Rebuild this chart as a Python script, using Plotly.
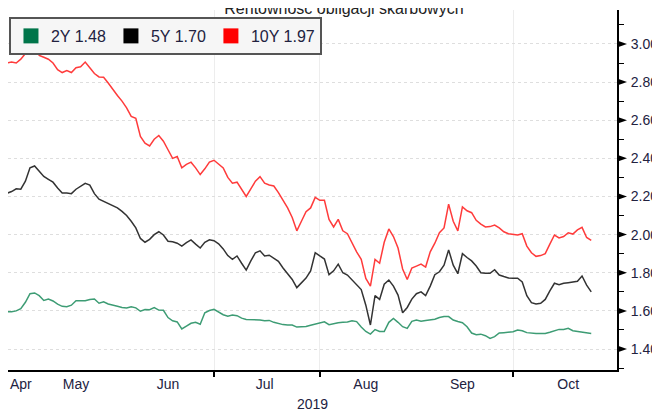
import pandas as pd
import plotly.graph_objects as go

# ---- data (Polish trading days, 24 Apr 2019 - 24 Oct 2019) ----
holidays = ["2019-04-22", "2019-05-01", "2019-05-03", "2019-06-20", "2019-08-15"]
dates = [d for d in pd.bdate_range("2019-04-24", "2019-10-24") if d.strftime("%Y-%m-%d") not in holidays]

y10 = [2.90, 2.905, 2.90, 2.92, 2.95, 2.99, 3.00, 2.94, 2.93, 2.92,
       2.90, 2.865, 2.85, 2.86, 2.85, 2.875, 2.88, 2.905, 2.875, 2.845,
       2.827, 2.825, 2.795, 2.76, 2.73, 2.70, 2.665, 2.62, 2.61, 2.515,
       2.48, 2.465, 2.50, 2.52, 2.49, 2.445, 2.40, 2.41, 2.35, 2.368,
       2.38, 2.35, 2.315, 2.345, 2.38, 2.39, 2.37, 2.35, 2.30, 2.27,
       2.275, 2.24, 2.20, 2.24, 2.28, 2.304, 2.27, 2.26, 2.255, 2.22,
       2.18, 2.14, 2.09, 2.02, 2.07, 2.12, 2.14, 2.195, 2.18, 2.18,
       2.08, 2.04, 2.08, 2.02, 2.005, 1.954, 1.91, 1.87, 1.77, 1.73,
       1.87, 1.85, 1.96, 2.03, 1.99, 1.93, 1.82, 1.765, 1.825, 1.835,
       1.845, 1.83, 1.91, 1.955, 2.01, 2.035, 2.16, 2.07, 2.02, 2.145,
       2.125, 2.115, 2.075, 2.055, 2.04, 2.042, 2.05, 2.035, 2.015, 2.005,
       2.00, 1.998, 2.005, 1.94, 1.905, 1.886, 1.89, 1.90, 1.95, 1.998,
       1.983, 1.99, 2.01, 2.003, 2.025, 2.038, 1.985, 1.97]

y5 = [2.217, 2.226, 2.24, 2.238, 2.28, 2.35, 2.36, 2.335, 2.305, 2.29,
      2.275, 2.245, 2.218, 2.218, 2.215, 2.238, 2.253, 2.269, 2.26, 2.215,
      2.186, 2.175, 2.16, 2.15, 2.14, 2.122, 2.10, 2.07, 2.035, 1.98,
      1.96, 1.975, 2.00, 2.015, 1.998, 1.965, 1.963, 1.955, 1.94, 1.958,
      1.972, 1.95, 1.93, 1.96, 1.973, 1.968, 1.952, 1.925, 1.89, 1.87,
      1.888, 1.85, 1.814, 1.862, 1.905, 1.915, 1.888, 1.892, 1.878, 1.86,
      1.825, 1.795, 1.765, 1.722, 1.75, 1.772, 1.81, 1.905, 1.888, 1.872,
      1.79, 1.81, 1.845, 1.80, 1.788, 1.762, 1.737, 1.712, 1.63, 1.526,
      1.68, 1.66, 1.74, 1.762, 1.73, 1.683, 1.59, 1.618, 1.662, 1.69,
      1.70, 1.68, 1.73, 1.79, 1.805, 1.84, 1.92, 1.84, 1.795, 1.90,
      1.88, 1.862, 1.835, 1.80, 1.797, 1.797, 1.816, 1.788, 1.78, 1.773,
      1.771, 1.771, 1.752, 1.68, 1.643, 1.636, 1.64, 1.66, 1.705, 1.745,
      1.737, 1.745, 1.748, 1.752, 1.755, 1.783, 1.735, 1.70]

y2 = [1.596, 1.596, 1.60, 1.612, 1.645, 1.69, 1.694, 1.68, 1.655, 1.662,
      1.652, 1.635, 1.624, 1.622, 1.63, 1.653, 1.653, 1.653, 1.66, 1.662,
      1.64, 1.648, 1.636, 1.628, 1.624, 1.618, 1.615, 1.622, 1.616, 1.598,
      1.607, 1.606, 1.617, 1.604, 1.603, 1.565, 1.548, 1.542, 1.505, 1.52,
      1.535, 1.54, 1.53, 1.59, 1.602, 1.608, 1.595, 1.58, 1.572, 1.578,
      1.575, 1.562, 1.555, 1.555, 1.554, 1.552, 1.548, 1.55, 1.54, 1.532,
      1.528, 1.526, 1.526, 1.515, 1.515, 1.518, 1.525, 1.532, 1.536, 1.543,
      1.528, 1.535, 1.538, 1.54, 1.542, 1.548, 1.544, 1.515, 1.492, 1.478,
      1.502, 1.492, 1.492, 1.54, 1.56, 1.54, 1.517, 1.508, 1.545, 1.552,
      1.546, 1.55, 1.552, 1.556, 1.565, 1.57, 1.57, 1.552, 1.544, 1.538,
      1.517, 1.484, 1.475, 1.478, 1.47, 1.456, 1.465, 1.484, 1.486, 1.487,
      1.491, 1.50, 1.496, 1.486, 1.482, 1.482, 1.482, 1.482, 1.488, 1.497,
      1.503, 1.503, 1.509, 1.496, 1.492, 1.491, 1.488, 1.482]

series_names = ["2Y", "5Y", "10Y"]
month_labels = ["Apr", "May", "Jun", "Jul", "Aug", "Sep", "Oct"]
month_label_dates = ["2019-04-29", "2019-05-17", "2019-06-14", "2019-07-16",
                     "2019-08-16", "2019-09-16", "2019-10-17"]
month_starts = ["2019-05-01", "2019-06-01", "2019-07-01", "2019-08-01",
                "2019-09-01", "2019-10-01"]
y_ticks = [1.40, 1.60, 1.80, 2.00, 2.20, 2.40, 2.60, 2.80, 3.00]
y_range = [1.29, 3.178]

# ---- styles ----
line_colors = ["#3d9c74", "#333333", "#ff3b3b"]
key_colors = ["#00754a", "#000000", "#ff0000"]
FONT = "Liberation Sans, Arial, sans-serif"
TXT = "#22223f"

fig = go.Figure()
for name, ys, lc in zip(series_names, [y2, y5, y10], line_colors):
    fig.add_trace(go.Scatter(x=dates, y=ys, mode="lines", line=dict(color=lc, width=1.5),
                             showlegend=False, hoverinfo="skip"))
for name, ys, kc in zip(series_names, [y2, y5, y10], key_colors):
    fig.add_trace(go.Scatter(x=[None], y=[None], mode="markers",
                             marker=dict(symbol="square", size=15, color=kc),
                             name=f"{name} {ys[-1]:.2f}"))

# Bloomberg-style triangular major tick marks on the right axis
for t in y_ticks:
    frac = (t - y_range[0]) / (y_range[1] - y_range[0])
    fig.add_shape(type="path", xref="paper", yref="paper", xsizemode="pixel", ysizemode="pixel",
                  xanchor=1, yanchor=frac, path="M0,-3.5L10,0L0,3.5Z",
                  fillcolor="black", line=dict(width=0, color="black"), layer="above")

fig.update_layout(
    template="none",
    width=660, height=409,
    margin=dict(l=0, r=51, t=2, b=47, autoexpand=False),
    paper_bgcolor="white", plot_bgcolor="white",
    font=dict(family=FONT, color=TXT, size=14),
    title=dict(text="Rentowność obligacji skarbowych", x=0.509, xanchor="center",
               y=1.0, yanchor="middle", yref="container",
               font=dict(size=16, color="#222222", family=FONT)),
    legend=dict(orientation="h", x=0.0016, xanchor="left", y=0.9806, yanchor="top",
                bgcolor="#f6f6f6", bordercolor="#555555", borderwidth=2,
                font=dict(size=16, color=TXT, family=FONT), itemsizing="trace"),
    showlegend=True,
)

fig.update_xaxes(
    type="date", automargin=False,
    range=["2019-04-24 05:13", "2019-10-31 14:24"],
    rangebreaks=[dict(bounds=["sat", "mon"]), dict(values=holidays)],
    tickmode="array", tickvals=month_label_dates, ticktext=month_labels,
    ticks="", showgrid=False, tickfont=dict(size=14, color=TXT),
    showline=True, linecolor="black", linewidth=1.5, zeroline=False,
    minor=dict(tickmode="array", tickvals=month_starts, ticks="outside", ticklen=5,
               tickwidth=1.5, tickcolor="black", showgrid=True, gridcolor="#ededed",
               gridwidth=1),
    title=dict(text="2019", font=dict(size=14, color=TXT), standoff=9),
)

fig.update_yaxes(
    side="right", automargin=False, range=y_range,
    tickmode="linear", tick0=y_ticks[0], dtick=0.2, tickformat=".2f",
    ticks="outside", ticklen=9, tickwidth=1, tickcolor="rgba(0,0,0,0)",
    showline=True, linecolor="black", linewidth=2, zeroline=False,
    showgrid=True, gridcolor="#dedede", griddash="dot", gridwidth=1,
    tickfont=dict(size=14, color=TXT),
    minor=dict(dtick=0.1, ticks="outside", ticklen=5, tickwidth=1, tickcolor="black",
               showgrid=False),
)

fig.write_html("out.html")
